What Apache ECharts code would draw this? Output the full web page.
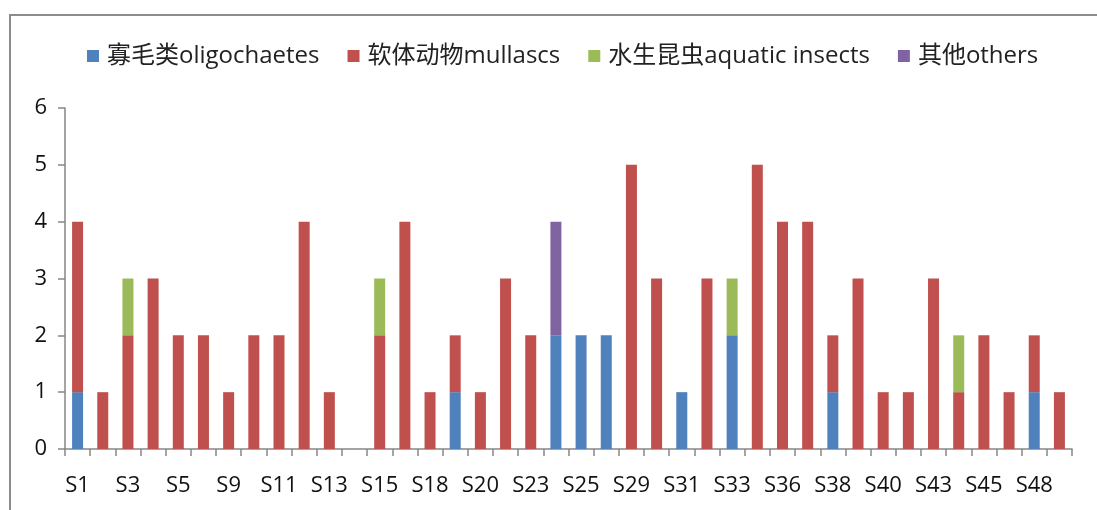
<!DOCTYPE html>
<html>
<head>
<meta charset="utf-8">
<script src="https://cdn.jsdelivr.net/npm/echarts@6/dist/echarts.min.js"></script>
<style>
html,body{margin:0;padding:0;background:#fff;}
#main{width:1097px;height:510px;}
</style>
</head>
<body>
<div id="main"></div>
<script>
// sites (only every other one is labelled on the axis)
var sites = ['S1','S2','S3','S4','S5','S7','S9','S10','S11','S12','S13','S14','S15','S16','S18','S19','S20','S21','S23','S24',
             'S25','S27','S29','S30','S31','S32','S33','S34','S36','S37','S38','S39','S40','S41','S43','S44','S45','S46','S48','S49'];
var oligochaetes = [1,0,0,0,0,0,0,0,0,0,0,0,0,0,0,1,0,0,0,2,2,2,0,0,1,0,2,0,0,0,1,0,0,0,0,0,0,0,1,0];
var mollusks     = [3,1,2,3,2,2,1,2,2,4,1,0,2,4,1,1,1,3,2,0,0,0,5,3,0,3,0,5,4,4,1,3,1,1,3,1,2,1,1,1];
var insects      = [0,0,1,0,0,0,0,0,0,0,0,0,1,0,0,0,0,0,0,0,0,0,0,0,0,0,1,0,0,0,0,0,0,0,0,1,0,0,0,0];
var others       = [0,0,0,0,0,0,0,0,0,0,0,0,0,0,0,0,0,0,0,2,0,0,0,0,0,0,0,0,0,0,0,0,0,0,0,0,0,0,0,0];
var seriesNames = ['寡毛类oligochaetes','软体动物mullascs','水生昆虫aquatic insects','其他others'];
var colors = ['#4F81BD','#C0504D','#9BBB59','#8064A2'];

var font = '"Open Sans", "Noto Sans CJK SC", sans-serif';
var axisGray = '#868686';

var myChart = echarts.init(document.getElementById('main'));

function makeSeries(name, data, color){
    return {
        name: name,
        type: 'bar',
        stack: 'total',
        barWidth: 11,
        itemStyle: {color: color},
        data: data
    };
}

var option = {
    animation: false,
    color: colors,
    graphic: [{
        type: 'rect',
        shape: {x: 10, y: 15, width: 1100, height: 520},
        style: {fill: 'none', stroke: '#8c8c8c', lineWidth: 2}
    }],
    legend: {
        top: 39,
        left: 82,
        itemWidth: 12,
        itemHeight: 12,
        itemGap: 28,
        icon: 'rect',
        textStyle: {fontSize: 24, color: '#222', fontFamily: font, padding: [0, 0, 0, 3]},
        data: seriesNames
    },
    grid: {left: 65, right: 25, top: 108, bottom: 61},
    xAxis: {
        type: 'category',
        data: sites,
        axisLine: {lineStyle: {color: axisGray, width: 1.5}},
        axisTick: {show: true, interval: 0, length: 7, lineStyle: {color: axisGray, width: 1.5}},
        axisLabel: {interval: 1, margin: 26, fontSize: 22, color: '#111', fontFamily: font}
    },
    yAxis: {
        type: 'value',
        min: 0,
        max: 6,
        interval: 1,
        axisLine: {show: true, lineStyle: {color: axisGray, width: 1.5}},
        axisTick: {show: true, length: 7, lineStyle: {color: axisGray, width: 1.5}},
        splitLine: {show: false},
        axisLabel: {margin: 18, fontSize: 22, color: '#111', fontFamily: font}
    },
    series: [
        makeSeries(seriesNames[0], oligochaetes, colors[0]),
        makeSeries(seriesNames[1], mollusks, colors[1]),
        makeSeries(seriesNames[2], insects, colors[2]),
        makeSeries(seriesNames[3], others, colors[3])
    ]
};
myChart.setOption(option);
</script>
</body>
</html>
